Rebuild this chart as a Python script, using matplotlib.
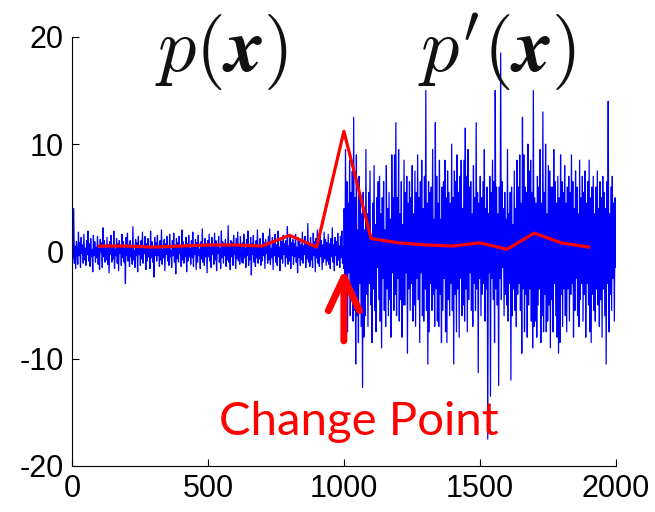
import numpy as np
import matplotlib.pyplot as plt
from matplotlib.patches import FancyArrowPatch

plt.rcParams['font.family'] = ['Liberation Sans', 'DejaVu Sans']
plt.rcParams['axes.unicode_minus'] = False
plt.rcParams['mathtext.fontset'] = 'cm'

# 前半段信号 (0-1000), 分布 p(x)
sig_before = [
    1.2, -0.7, 4.0, -1.1, 0.5, -1.6, 0.9, 0.2, -1.2, 1.8, -0.4, 0.8, -1.5, 1.3, -0.2, 0.6, -1.1, 1.6, -0.8, 0.3, -1.3, 1.0, -0.3, 1.9, -0.9,
    0.7, -1.4, 1.2, -0.5, 0.2, -1.9, 1.5, -0.4, 0.9, -1.0, 0.4, -0.6, 1.4, -1.2, 0.3, -1.7, 1.1, -0.1, 0.8, -1.5, 2.2, -0.5, 1.0, -1.0, 0.3,
    -0.8, 1.3, -1.2, 0.6, -2.0, 0.9, -0.3, 1.5, -1.0, 0.5, -0.7, 1.9, -1.6, 0.2, -0.4, 1.2, -1.1, 0.7, -1.8, 1.0, -0.2, 0.4, -1.3, 1.6, -0.6,
    0.9, -1.0, 0.3, -3.0, 1.3, -0.4, 1.7, -0.9, 0.6, -1.4, 1.0, -0.5, 0.4, -1.2, 2.3, -0.8, 0.1, -1.5, 1.1, -0.4, 0.8, -1.9, 1.4, -0.3, 0.5,
    -1.3, 1.0, -0.7, 1.8, -1.1, 0.4, -0.2, 1.4, -1.7, 0.7, -0.9, 1.2, -0.5, 0.3, -1.6, 1.9, -0.6, 0.9, -1.0, 0.4, -2.4, 1.3, -0.4, 0.8, -0.9,
    1.5, -0.4, 0.5, -1.4, 1.0, -0.8, 2.0, -1.2, 0.2, -0.6, 1.1, -1.8, 0.7, -0.3, 1.4, -0.9, 0.4, -1.3, 1.6, -0.5, 0.1, -1.5, 1.0, -0.4, 1.7,
    -1.0, 0.6, -2.1, 1.2, -0.7, 0.8, -1.0, 1.4, -0.2, 0.4, -1.4, 2.0, -0.8, 0.9, -1.1, 0.5, -0.5, 1.3, -1.9, 0.7, -0.9, 1.5, -0.5, 0.3, -1.2,
    1.0, -0.6, 1.8, -1.4, 0.5, -0.3, 1.1, -1.7, 0.8, -1.0, 1.5, -0.4, 0.2, -1.6, 0.9, -0.7, 2.1, -1.0, 0.5, -1.3, 1.2, -0.5, 0.7, -2.0, 1.0,
    -0.5, 1.6, -0.9, 0.4, -1.5, 1.3, -0.3, 0.6, -1.2, 1.7, -0.8, 1.0, -1.8, 0.4, -0.2, 1.4, -1.0, 0.3, -1.6, 1.9, -0.6, 0.9, -1.1, 0.7, -0.4,
    1.1, -1.4, 0.5, -0.8, 2.4, -1.0, 0.4, -1.7, 1.0, -0.5, 0.8, -1.3, 1.5, -0.3, 0.5, -1.6, 1.2, -0.7, 1.8, -0.9, 0.6, -1.2, 1.4, -0.2, -1.0,
    0.8, -1.1, 1.6, -0.6, 0.3, -1.5, 1.1, -0.4, 1.9, -1.3, 0.6, -0.8, 1.3, -2.2, 0.7, -0.3, 1.5, -1.0, 0.4, -1.4, 1.0, -0.6, 2.0, -1.1, 0.5,
    -0.7, 1.2, -1.3, 0.5, -0.9, 1.7, -0.4, 0.8, -1.6, 1.1, -0.2, 0.6, -1.1, 1.4, -0.8, 2.1, -1.2, 0.3, -0.6, 1.3, -1.7, 0.9, -0.4, 1.6, -1.0,
    0.6, -1.3, 1.9, -0.5, 0.4, -1.8, 1.2, -0.7, 0.9, -1.1, 1.5, -0.3, 0.7, -1.4, 1.0, -0.6, 2.3, -1.2, 0.5, -0.9, 1.3, -1.6, 0.8, -0.4, 1.1,
    -1.2, 0.7, -0.5, 1.6, -1.0, 0.4, -2.0, 1.3, -0.6, 1.0, -1.3, 0.6, -0.8, 1.8, -1.1, 0.5, -0.3, 1.4, -1.5, 0.9, -0.7, 2.6, -1.0, 0.6, -1.4,
    1.3, -0.8, 0.5, -1.5, 1.7, -0.4, 0.9, -1.9, 1.2, -0.6, 2.0, -1.1, 0.7, -1.4, 1.5, -0.5, 1.0, -1.7, 0.6, -1.0, 1.8, -0.7, 1.1, -1.3, 0.8,
    -0.9, 1.6, -1.2, 0.7, -1.6, 1.2, -0.5, 2.2, -1.0, 0.6, -1.8, 1.3, -0.4, 0.9, -1.3, 1.7, -0.8, 0.5, -1.5, 1.4, -0.6, 1.9, -1.1, 0.4, -1.6,
]

# 后半段信号 (1000-2000), 分布 p'(x)
sig_after = [
    4.0, -5.0, 9.5, -3.0, 6.5, -7.5, 4.5, -2.0, 8.5, -6.0, 5.5, -4.0, 7.5, -6.5, 12.5, -5.5, 5.0, -10.5, 9.0, -6.0, 2.0, -8.5, 7.0, -3.0, 5.0,
    -7.0, 3.5, -12.7, 5.5, -8.0, 2.0, -6.0, 9.5, -4.0, 3.5, -7.0, 5.5, -3.0, 7.5, -5.0, 1.5, -8.5, 4.5, -3.5, 8.0, -5.5, 2.5, -7.5, 5.0, -1.5,
    6.5, -4.5, 7.0, -6.5, 3.5, -9.0, 5.0, -2.5, 6.5, -5.5, 2.0, -7.0, 8.0, -3.5, 4.0, -6.0, 5.5, -4.5, 3.0, -8.0, 9.0, -2.0, 5.0, -5.5, 9.0,
    -4.0, 12.0, -6.0, 5.0, -2.5, 9.5, -6.5, 3.5, -4.5, 6.5, -8.0, 2.5, -5.0, 8.5, -5.0, 5.5, -2.0, 7.0, -9.5, 4.5, -3.5, 6.5, -5.5, 5.0, -3.0,
    8.0, -6.5, 3.5, -5.0, 7.5, -7.0, 5.5, -2.5, 9.0, -4.5, 5.0, -8.5, 6.5, -2.0, 8.5, -6.0, 4.0, -6.5, 7.0, -3.5, 15.0, -5.5, 4.5, -10.5, 6.5,
    -7.5, 5.5, -3.0, 6.0, -5.5, 9.5, -4.0, 3.0, -7.0, 12.0, -3.5, 7.0, -6.5, 4.5, -7.0, 8.5, -4.0, 3.0, -8.5, 6.0, -5.5, 6.5, -2.5, 8.5, -7.5,
    5.0, -8.5, 7.5, -4.5, 5.5, -6.0, 4.5, -3.0, 10.0, -5.5, 5.0, -10.5, 7.5, -4.0, 6.5, -7.5, 9.0, -3.5, 5.5, -8.0, 7.0, -2.5, 8.5, -6.0, 4.0,
    -5.0, 8.5, -6.5, 11.5, -3.5, 7.0, -7.5, 9.5, -4.5, 6.0, -2.0, 6.5, -5.5, 3.5, -7.0, 8.0, -3.0, 5.0, -5.5, 12.0, -3.5, 5.5, -11.3, 4.5, -2.5,
    7.0, -6.0, 5.0, -4.0, 6.5, -3.0, 9.5, -6.5, 4.0, -3.5, 6.0, -17.5, 3.5, -2.0, 7.0, -13.5, 5.5, -2.5, 8.5, -4.5, 6.5, -8.5, 15.0, -3.5, 6.0,
    -5.0, 3.5, -12.5, 6.0, -2.5, 18.5, -4.5, 6.5, -1.5, 4.0, -6.0, 5.5, -4.0, 3.0, -5.0, 9.5, -6.5, 3.5, -3.0, 5.5, -12.0, 6.0, -6.0, 2.5, -3.5,
    7.5, -5.5, 4.0, -7.0, 8.5, -4.0, 6.0, -3.0, 9.0, -5.5, 4.5, -9.5, 12.5, -3.5, 9.0, -7.5, 6.0, -4.0, 5.5, -8.0, 10.0, -5.0, 7.5, -3.5, 8.5,
    -6.5, 5.5, -9.0, 15.0, -7.0, 5.0, -6.5, 4.5, -8.0, 7.0, -5.0, 6.0, -3.5, 9.5, -8.5, 4.5, -6.0, 13.0, -7.5, 5.5, -4.0, 10.0, -7.5, 3.5, -6.5,
    8.0, -5.0, 7.5, -9.0, 6.0, -4.5, 6.0, -7.5, 9.5, -3.0, 6.5, -6.0, 4.5, -8.0, 7.0, -9.5, 5.0, -8.5, 9.0, -4.0, 6.5, -7.0, 5.5, -3.5, 8.0,
    -6.0, 4.5, -7.5, 6.0, -3.5, 7.0, -6.5, 5.5, -4.0, 9.0, -3.0, 6.5, -8.0, 4.0, -5.5, 7.5, -2.5, 6.0, -6.0, 3.5, -7.0, 8.5, -4.5, 5.0, -3.0,
    7.0, -6.5, 5.5, -4.0, 7.5, -8.0, 4.5, -3.0, 6.5, -5.0, 8.5, -7.5, 5.0, -8.5, 6.0, -4.0, 7.0, -5.5, 3.5, -6.5, 6.0, -3.5, 7.5, -5.0, 4.0,
    -7.0, 6.5, -4.5, 5.0, -8.0, 7.0, -3.5, 5.5, -6.0, 4.0, -10.5, 6.5, -3.0, 14.0, -7.5, 3.5, -4.0, 6.0, -5.5, 7.0, -2.5, 4.5, -6.5, 5.0, -1.5,
]

# 红线: 每100点的变化点得分
score_x = [100, 200, 300, 400, 500, 600, 700, 800, 900, 1000,
           1100, 1200, 1300, 1400, 1500, 1600, 1700, 1800, 1900]
score_y = [0.5, 0.5, 0.4, 0.5, 0.6, 0.6, 0.5, 1.5, 0.4, 11.2,
           1.2, 0.8, 0.6, 0.5, 0.8, 0.2, 1.7, 0.8, 0.4]

x_before = np.linspace(1, 1000, len(sig_before))
x_after = np.linspace(1001, 2000, len(sig_after))
x_all = np.concatenate([x_before, x_after])
y_all = np.concatenate([sig_before, sig_after])

fig = plt.figure(figsize=(6.55, 5.12), dpi=100)
ax = fig.add_axes([0.110, 0.090, 0.830, 0.838])

ax.plot(x_all, y_all, color='#0000ff', linewidth=0.9, zorder=2)
ax.plot(score_x, score_y, color='#ff0000', linewidth=2.3, zorder=4)

ax.set_xlim(0, 2000)
ax.set_ylim(-20, 20)
ax.set_xticks([0, 500, 1000, 1500, 2000])
ax.set_yticks([-20, -10, 0, 10, 20])
ax.tick_params(direction='in', length=5, width=0.8, labelsize=22, pad=6)
ax.spines['top'].set_visible(False)
ax.spines['right'].set_visible(False)

# 标题公式
ax.text(551, 18.6, r'$p(\mathbfit{x})$', fontsize=55, ha='center', va='center',
        color='#111111', clip_on=False)
ax.text(1562, 18.6, r"$p'(\mathbfit{x})$", fontsize=55, ha='center', va='center',
        color='#111111', clip_on=False)

# 变化点箭头
arrow = FancyArrowPatch((1000, -8.6), (1000, -1.4),
                        arrowstyle='->,head_length=0.6,head_width=0.28',
                        mutation_scale=40, color='#ff0000', linewidth=5, zorder=5)
ax.add_patch(arrow)
ax.text(1055, -15.9, 'Change Point', fontsize=34, color='#ff0000',
        ha='center', va='center', family=['Lato', 'DejaVu Sans'], zorder=6)

plt.savefig('out.png', dpi=100)
